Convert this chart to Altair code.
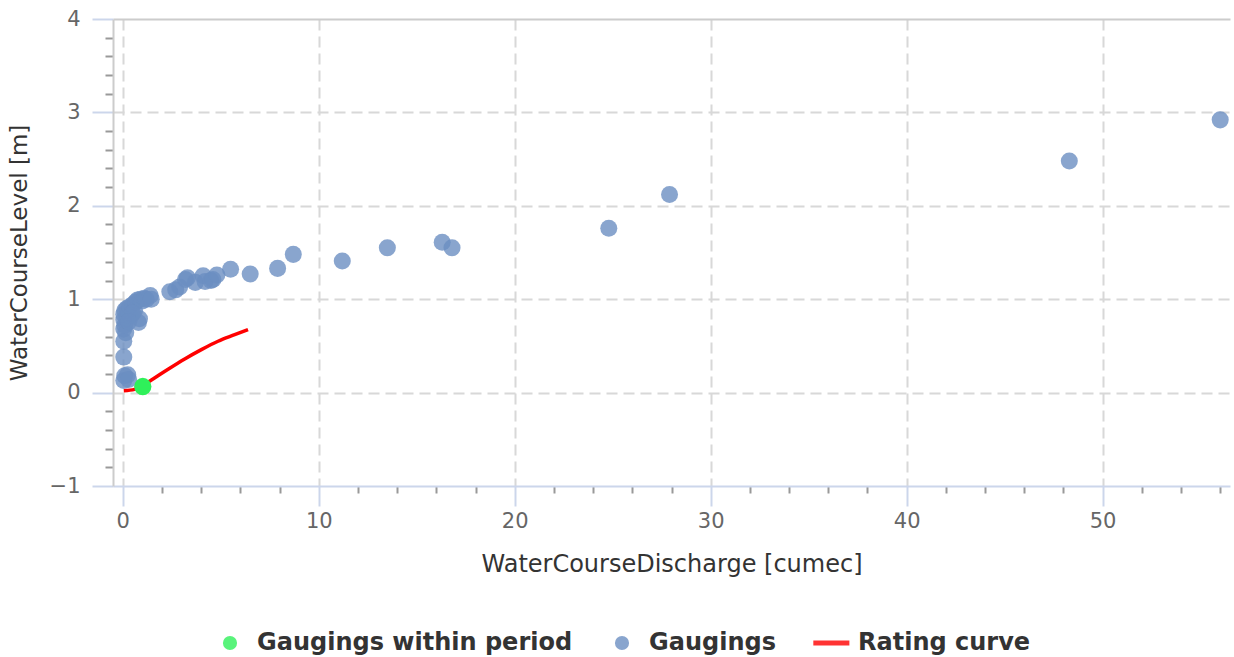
import altair as alt
import pandas as pd

# ---- data ----
gaugings_q = [0.05, 0.10, 0.25, 0.30, 0.05, 0.05, 0.15, 0.05, 0.10, 0.05, 0.20, 0.05, 0.10, 0.20,
              0.30, 0.35, 0.40, 0.50, 0.60, 0.65, 0.75, 0.80, 0.85, 0.90, 1.00, 1.10, 1.20, 1.40,
              1.45, 0.50, 0.30, 2.4, 2.7, 2.9, 3.2, 3.3, 3.7, 4.1, 4.2, 4.5, 4.6, 4.8, 5.5, 6.5,
              7.9, 8.7, 11.2, 13.5, 16.3, 16.8, 24.8, 27.9, 48.3, 56.0]
gaugings_h = [0.13, 0.18, 0.19, 0.14, 0.38, 0.55, 0.64, 0.68, 0.72, 0.78, 0.80, 0.84, 0.88, 0.90,
              0.86, 0.92, 0.82, 0.94, 0.88, 0.97, 0.99, 0.75, 0.79, 1.00, 0.98, 1.01, 1.00, 1.04,
              1.00, 0.85, 0.76, 1.08, 1.10, 1.13, 1.21, 1.23, 1.18, 1.25, 1.19, 1.20, 1.21, 1.26,
              1.32, 1.27, 1.33, 1.48, 1.41, 1.55, 1.61, 1.55, 1.76, 2.12, 2.48, 2.92]
period_q = [1.02]
period_h = [0.065]
curve_q = [0.05, 0.6, 1.0, 1.46, 2.31, 3.16, 4.01, 4.86, 5.71, 6.39]
curve_h = [0.02, 0.035, 0.075, 0.135, 0.25, 0.36, 0.46, 0.55, 0.62, 0.675]

series_names = ["Gaugings within period", "Gaugings", "Rating curve"]
series_colors = ["#2ff05a", "#6b8fc2", "#ff0000"]
line_symbol = "M-2.5,-0.35H2.6V0.35H-2.5Z"

x_values = list(range(0, 57, 2))
y_values = [round(-1 + 0.2 * i, 1) for i in range(26)]

gaug = pd.DataFrame({"q": gaugings_q, "h": gaugings_h, "series": "Gaugings"})
per = pd.DataFrame({"q": period_q, "h": period_h, "series": "Gaugings within period"})
cur = pd.DataFrame({"q": curve_q, "h": curve_h, "series": "Rating curve"})

FONT = "DejaVu Sans"
major_x = "datum.value % 10 === 0"
major_y = "abs(datum.value - round(datum.value)) < 0.001"

x_enc = alt.X(
    "q:Q",
    scale=alt.Scale(domain=[-0.5, 56.5], nice=False, zero=False),
    axis=alt.Axis(
        title="WaterCourseDischarge [cumec]",
        values=x_values,
        labelExpr=f"{major_x} ? format(datum.value, 'd') : ''",
        grid=True,
        gridColor="#d8d8d8",
        gridWidth=2,
        gridDash=[11, 6],
        gridOpacity=alt.condition(major_x, alt.value(1), alt.value(0)),
        tickSize=alt.condition(major_x, alt.value(20), alt.value(7)),
        tickColor=alt.condition(major_x, alt.value("#ccd6eb"), alt.value("#999999")),
        tickWidth=2,
        domainColor="#ccd6eb",
        domainWidth=2,
        labelFont=FONT,
        labelFontSize=21,
        labelColor="#666666",
        labelPadding=4,
        titleFont=FONT,
        titleFontSize=24,
        titleFontWeight="normal",
        titleColor="#333333",
        titlePadding=21,
    ),
)

y_enc = alt.Y(
    "h:Q",
    scale=alt.Scale(domain=[-1, 4], nice=False, zero=False),
    axis=alt.Axis(
        title="WaterCourseLevel [m]",
        values=y_values,
        labelExpr=f"{major_y} ? format(datum.value, 'd') : ''",
        grid=True,
        gridColor=alt.condition("datum.value === 4", alt.value("#cccccc"), alt.value("#d8d8d8")),
        gridWidth=2,
        gridDash=alt.condition("datum.value === 4", alt.value([]), alt.value([11, 6])),
        gridOpacity=alt.condition(f"{major_y} && datum.value > -1", alt.value(1), alt.value(0)),
        tickSize=alt.condition(major_y, alt.value(21), alt.value(8)),
        tickColor=alt.condition(major_y, alt.value("#ccd6eb"), alt.value("#999999")),
        tickWidth=2,
        domainColor="#cccccc",
        domainWidth=2,
        labelFont=FONT,
        labelFontSize=21,
        labelColor="#666666",
        labelPadding=12,
        titleFont=FONT,
        titleFontSize=23,
        titleFontWeight="normal",
        titleColor="#333333",
        titlePadding=18,
    ),
)

legend_kw = dict(
    title=None,
    orient="none",
    direction="horizontal",
    legendX=105,
    legendY=612,
    labelFont=FONT,
    labelFontSize=24,
    labelFontWeight="bold",
    labelColor="#333333",
    labelLimit=500,
    labelOffset=15,
    columnPadding=37,
    symbolSize=200,
    symbolStrokeWidth=0,
)

color_enc = alt.Color(
    "series:N",
    scale=alt.Scale(domain=series_names, range=series_colors),
    legend=alt.Legend(**legend_kw),
)
shape_enc = alt.Shape(
    "series:N",
    scale=alt.Scale(domain=series_names, range=["circle", "circle", line_symbol]),
    legend=alt.Legend(**legend_kw),
)

pts = alt.Chart(gaug).mark_point(filled=True, size=290, opacity=0.8).encode(
    x=x_enc, y=y_enc, color=color_enc, shape=shape_enc
)
line = alt.Chart(cur).mark_line(strokeWidth=3.5, interpolate="monotone").encode(
    x=x_enc, y=y_enc, color=color_enc
)
green = alt.Chart(per).mark_point(filled=True, size=300, opacity=1).encode(
    x=x_enc, y=y_enc, color=color_enc, shape=shape_enc
)

chart = (
    alt.layer(pts, line, green)
    .properties(
        width=1117,
        height=467,
        autosize=alt.AutoSizeParams(type="none"),
        padding={"left": 113, "top": 19, "right": 4, "bottom": 171},
        background="white",
    )
    .configure_view(stroke=None)
)

chart.save("out.html", embed_options={"renderer": "svg", "actions": False})
